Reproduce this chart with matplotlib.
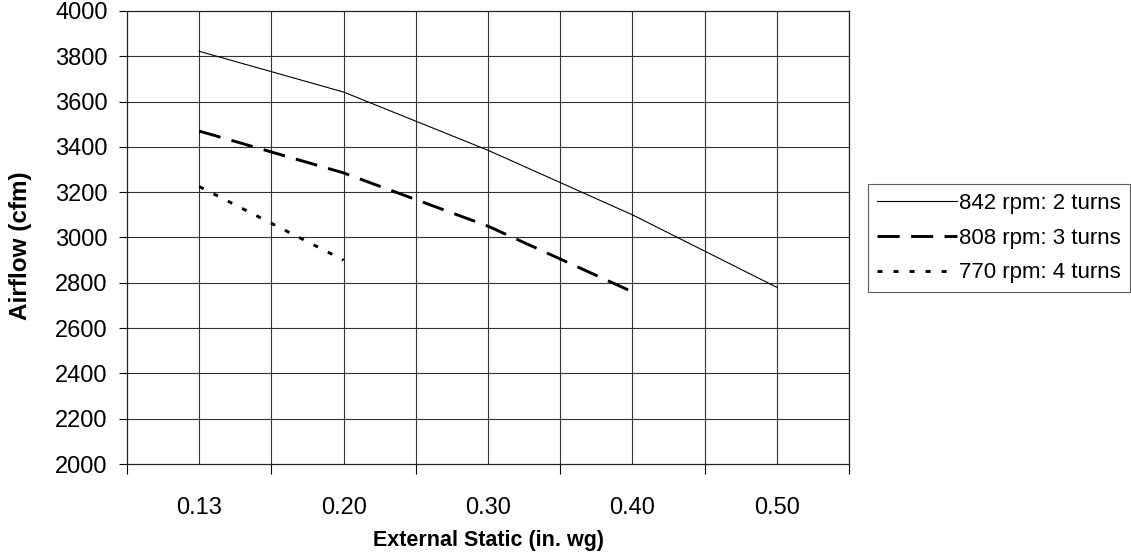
import numpy as np
import matplotlib
matplotlib.use("Agg")
import matplotlib.pyplot as plt

plt.rcParams['font.family'] = ['Liberation Sans', 'DejaVu Sans']

categorias = ['0.13', '0.20', '0.30', '0.40', '0.50']
rpm842 = [3822, 3642, 3385, 3100, 2780]
rpm808 = [3470, 3285, 3050, 2760]
rpm770 = [3225, 2900]
nomes = ['842 rpm: 2 turns', '808 rpm: 3 turns', '770 rpm: 4 turns']

fig = plt.figure(figsize=(11.31, 5.6), dpi=100)
ax = fig.add_axes([0.1123, 0.1714, 0.6384, 0.809])

ax.plot(range(len(rpm842)), rpm842, color='black', lw=0.8, label=nomes[0])
ax.plot(range(len(rpm808)), rpm808, color='black', lw=2.1, dashes=(7.6, 3.9), label=nomes[1])
ax.plot(range(len(rpm770)), rpm770, color='black', lw=2.1, dashes=(1.7, 3.8), label=nomes[2])

ax.set_xlim(-0.5, len(categorias) - 0.5)
ax.set_ylim(2000, 4000)
ax.set_yticks(np.arange(2000, 4001, 200))

# rotulos no centro, tracos nas fronteiras das categorias
ax.set_xticks(range(len(categorias)))
ax.set_xticklabels(categorias)
ax.tick_params(axis='x', which='major', length=0, pad=24, labelsize=17)
ax.set_xticks(np.arange(-0.5, len(categorias), 1.0), minor=True)
ax.tick_params(axis='x', which='minor', length=7, width=0.8, direction='out')
ax.tick_params(axis='y', length=6, width=0.8, labelsize=17, pad=8)

# grelha
for xv in np.arange(0, len(categorias) - 0.4, 0.5):
    ax.axvline(xv, color='#333333', lw=0.8, zorder=0)
for yv in np.arange(2200, 4000, 200):
    ax.axhline(yv, color='#333333', lw=0.8, zorder=0)

for s in ax.spines.values():
    s.set_linewidth(0.9)
    s.set_color('#222222')

ax.set_xlabel('External Static (in. wg)', fontsize=15.5, fontweight='bold', labelpad=7.5)
ax.set_ylabel('Airflow (cfm)', fontsize=17.5, fontweight='bold')
ax.yaxis.set_label_coords(-0.132, 0.483)

leg = ax.legend(loc='upper left', bbox_to_anchor=(868 / 1131, 1 - 184 / 560),
                bbox_transform=fig.transFigure, fontsize=16,
                frameon=True, fancybox=False, handlelength=3.6, handletextpad=0.1,
                borderpad=0.4, labelspacing=0.62, borderaxespad=0)
leg.get_frame().set_edgecolor('#333333')
leg.get_frame().set_linewidth(0.8)

plt.savefig('out.png', dpi=100)
